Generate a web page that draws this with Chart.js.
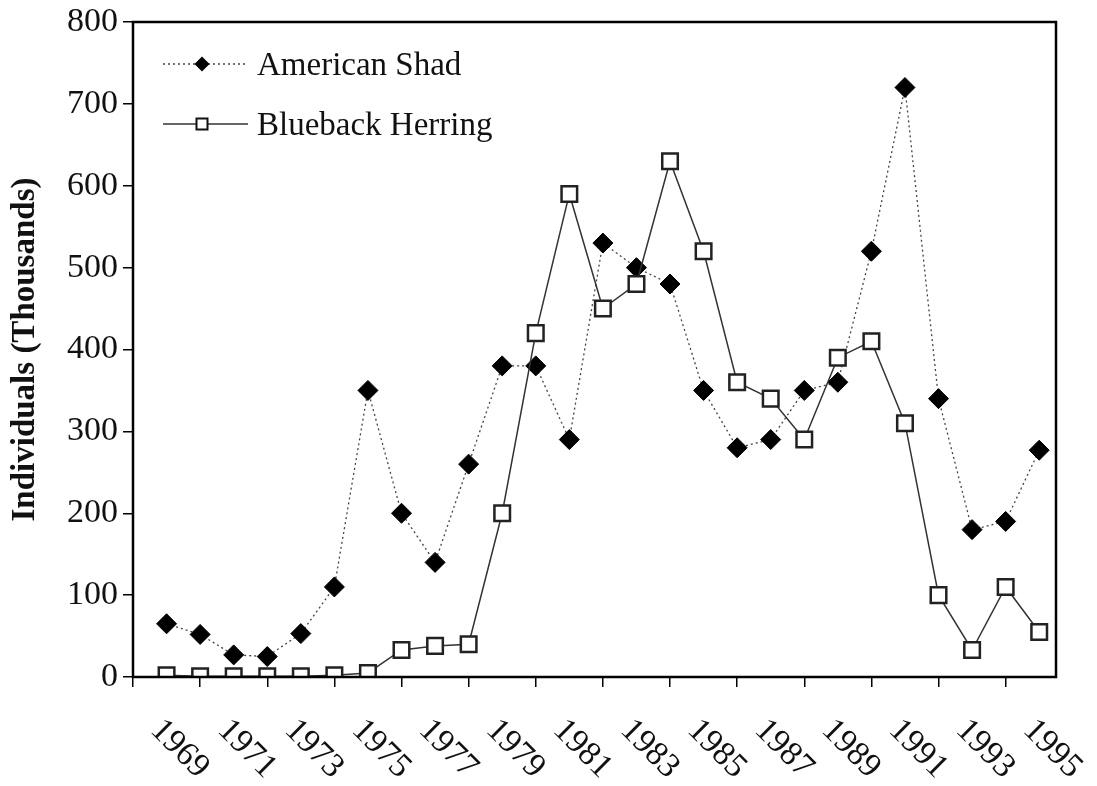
<!DOCTYPE html>
<html>
<head>
<meta charset="utf-8">
<script src="https://cdn.jsdelivr.net/npm/chart.js@4.4.1/dist/chart.umd.min.js"></script>
<style>
  html, body { margin: 0; padding: 0; background: #fff; }
  #wrap { width: 1097px; height: 786px; position: relative; }
</style>
</head>
<body>
<div id="wrap"><canvas id="chart"></canvas></div>
<script>
const SERIF = '"Liberation Serif", "Times New Roman", Times, serif';

const years = [1969, 1970, 1971, 1972, 1973, 1974, 1975, 1976, 1977, 1978, 1979, 1980, 1981, 1982,
    1983, 1984, 1985, 1986, 1987, 1988, 1989, 1990, 1991, 1992, 1993, 1994, 1995];
const americanShad = [65, 52, 27, 25, 53, 110, 350, 200, 140, 260, 380, 380, 290, 530,
    500, 480, 350, 280, 290, 350, 360, 520, 720, 340, 180, 190, 277];
const bluebackHerring = [2, 1, 1, 1, 1, 2, 5, 33, 38, 40, 200, 420, 590, 450,
    480, 630, 520, 360, 340, 290, 390, 410, 310, 100, 33, 110, 55];
const labelYears = [1969, 1971, 1973, 1975, 1977, 1979, 1981, 1983, 1985, 1987, 1989, 1991, 1993, 1995];
const tickYears = [1968, 1970, 1972, 1974, 1976, 1978, 1980, 1982, 1984, 1986, 1988, 1990, 1992, 1994];
const yTicks = [0, 100, 200, 300, 400, 500, 600, 700, 800];

const toPoints = (vals) => vals.map((v, i) => ({ x: years[i], y: v }));

// frame, rotated year labels and the legend (line + marker) drawn by hand
const decor = {
    id: 'decor',
    afterDraw(chart) {
        const { ctx, chartArea: a, scales: { x } } = chart;
        ctx.save();
        ctx.strokeStyle = '#000';
        ctx.lineWidth = 2.5;
        ctx.strokeRect(a.left, a.top, a.right - a.left, a.bottom - a.top);

        ctx.fillStyle = '#111';
        ctx.font = `34px ${SERIF}`;
        ctx.textAlign = 'left';
        ctx.textBaseline = 'middle';
        labelYears.forEach(yr => {
            const px = x.getPixelForValue(yr);
            ctx.save();
            ctx.translate(px - 11, a.bottom + 48);
            ctx.rotate(Math.PI / 4);
            ctx.fillText(String(yr), 0, 0);
            ctx.restore();
        });

        ctx.font = `33px ${SERIF}`;
        chart.data.datasets.forEach((ds, i) => {
            const ly = a.top + 42 + i * 60;
            const x0 = a.left + 30, x1 = a.left + 115, mx = a.left + 69;
            ctx.save();
            ctx.strokeStyle = ds.borderColor;
            ctx.lineWidth = ds.borderWidth;
            ctx.setLineDash(ds.borderDash || []);
            ctx.beginPath();
            ctx.moveTo(x0, ly);
            ctx.lineTo(x1, ly);
            ctx.stroke();
            ctx.setLineDash([]);
            ctx.beginPath();
            if (ds.pointStyle === 'rectRot') {
                const r = 7.5;
                ctx.moveTo(mx - r, ly); ctx.lineTo(mx, ly - r);
                ctx.lineTo(mx + r, ly); ctx.lineTo(mx, ly + r);
                ctx.closePath();
                ctx.fillStyle = '#000';
                ctx.fill();
            } else {
                const s = 5.5;
                ctx.rect(mx - s, ly - s, 2 * s, 2 * s);
                ctx.fillStyle = '#fff';
                ctx.fill();
                ctx.strokeStyle = '#111';
                ctx.lineWidth = 2;
                ctx.stroke();
            }
            ctx.restore();
            ctx.fillStyle = '#111';
            ctx.textBaseline = 'alphabetic';
            ctx.fillText(ds.label, a.left + 124, ly + 11);
        });
        ctx.restore();
    }
};

const ctx = document.getElementById('chart').getContext('2d');
new Chart(ctx, {
    type: 'line',
    data: {
        datasets: [
            {
                label: 'American Shad',
                data: toPoints(americanShad),
                borderColor: '#444',
                borderWidth: 1.3,
                borderDash: [2, 3],
                pointStyle: 'rectRot',
                pointRadius: 10,
                pointBackgroundColor: '#000',
                pointBorderColor: '#000',
                pointBorderWidth: 1,
                order: 1,
            },
            {
                label: 'Blueback Herring',
                data: toPoints(bluebackHerring),
                borderColor: '#333',
                borderWidth: 1.5,
                pointStyle: 'rect',
                pointRadius: 11,
                pointBackgroundColor: '#fff',
                pointBorderColor: '#222',
                pointBorderWidth: 2.5,
                order: 0,
            }
        ]
    },
    options: {
        responsive: true,
        maintainAspectRatio: false,
        animation: false,
        layout: { padding: { top: 20, right: 41, left: 0, bottom: 0 } },
        plugins: { legend: { display: false }, tooltip: { enabled: false } },
        scales: {
            x: {
                type: 'linear',
                min: 1968,
                max: 1995.5,
                afterBuildTicks: (scale) => { scale.ticks = tickYears.map(v => ({ value: v })); },
                afterFit: (scale) => { scale.height = 109; },
                ticks: { display: false },
                grid: { drawOnChartArea: false, drawTicks: true, tickLength: 10, color: '#000', lineWidth: 1.5 },
                border: { display: false }
            },
            y: {
                min: 0,
                max: 800,
                afterBuildTicks: (scale) => { scale.ticks = yTicks.map(v => ({ value: v })); },
                afterFit: (scale) => { scale.width = 133; },
                ticks: { color: '#111', padding: 5, font: { family: SERIF, size: 34, lineHeight: 1 } },
                grid: { drawOnChartArea: false, drawTicks: true, tickLength: 10, color: '#000', lineWidth: 1.5 },
                border: { display: false },
                title: {
                    display: true,
                    text: 'Individuals (Thousands)',
                    color: '#111',
                    padding: { top: 6, bottom: 0 },
                    font: { family: SERIF, size: 33, weight: 'bold' }
                }
            }
        }
    },
    plugins: [decor]
});
</script>
</body>
</html>
